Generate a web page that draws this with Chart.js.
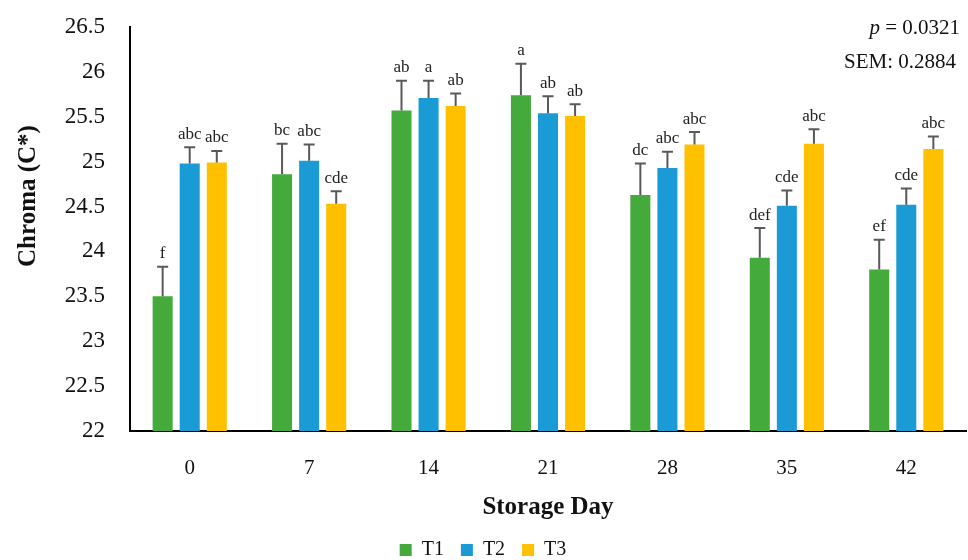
<!DOCTYPE html>
<html>
<head>
<meta charset="utf-8">
<script src="https://cdn.jsdelivr.net/npm/chart.js@4"></script>
<style>
  html, body { margin: 0; padding: 0; background: #fff; }
  #wrap { width: 968px; height: 560px; }
</style>
</head>
<body>
<div id="wrap"><canvas id="chart" width="968" height="560"></canvas></div>
<script>
// Données
const jours = ["0", "7", "14", "21", "28", "35", "42"];
const t1 = [23.50, 24.86, 25.57, 25.74, 24.63, 23.93, 23.80];
const t2 = [24.98, 25.01, 25.71, 25.54, 24.93, 24.51, 24.52];
const t3 = [24.99, 24.53, 25.62, 25.51, 25.19, 25.20, 25.14];
const t1Err = [0.33, 0.34, 0.33, 0.35, 0.35, 0.33, 0.33];
const t2Err = [0.18, 0.18, 0.19, 0.19, 0.18, 0.17, 0.18];
const t3Err = [0.13, 0.14, 0.14, 0.13, 0.14, 0.16, 0.14];
const t1Lettres = ["f", "bc", "ab", "a", "dc", "def", "ef"];
const t2Lettres = ["abc", "abc", "a", "ab", "abc", "cde", "cde"];
const t3Lettres = ["abc", "cde", "ab", "ab", "abc", "abc", "abc"];
const yTicks = [22, 22.5, 23, 23.5, 24, 24.5, 25, 25.5, 26, 26.5];

const serif = "'Liberation Serif', 'Times New Roman', serif";
const erreurs = [t1Err, t2Err, t3Err];
const lettres = [t1Lettres, t2Lettres, t3Lettres];

// Barres d'erreur (vers le haut) + lettres de signification
const pluginErreurs = {
  id: "erreurs",
  afterDatasetsDraw(chart) {
    const ctx = chart.ctx;
    const y = chart.scales.y;
    ctx.save();
    chart.data.datasets.forEach((ds, d) => {
      const meta = chart.getDatasetMeta(d);
      meta.data.forEach((bar, i) => {
        const haut = y.getPixelForValue(ds.data[i] + erreurs[d][i]);
        ctx.strokeStyle = "#595959";
        ctx.lineWidth = 2;
        ctx.beginPath();
        ctx.moveTo(bar.x, bar.y);
        ctx.lineTo(bar.x, haut);
        ctx.moveTo(bar.x - 5.5, haut);
        ctx.lineTo(bar.x + 5.5, haut);
        ctx.stroke();
        ctx.fillStyle = "#222";
        ctx.font = "17px " + serif;
        ctx.textAlign = "center";
        ctx.textBaseline = "middle";
        ctx.fillText(lettres[d][i], bar.x, haut - 13);
      });
    });
    ctx.restore();
  }
};

// Titre de l'axe Y et annotations p / SEM
const pluginTextes = {
  id: "textes",
  afterDraw(chart) {
    const ctx = chart.ctx;
    ctx.save();
    ctx.fillStyle = "#111";
    ctx.textBaseline = "middle";
    // titre Y
    ctx.translate(29, 196);
    ctx.rotate(-Math.PI / 2);
    ctx.textAlign = "center";
    ctx.font = "bold 25px " + serif;
    ctx.fillText("Chroma (C*)", 0, 0);
    ctx.setTransform(1, 0, 0, 1, 0, 0);
    // p = 0.0321
    ctx.textAlign = "right";
    ctx.font = "21px " + serif;
    const reste = " = 0.0321";
    const w = ctx.measureText(reste).width;
    ctx.fillText(reste, 960, 28);
    ctx.font = "italic 21px " + serif;
    ctx.fillText("p", 960 - w, 28);
    ctx.font = "21px " + serif;
    ctx.fillText("SEM: 0.2884", 956, 62);
    ctx.restore();
  }
};

const data = {
  labels: jours,
  datasets: [
    { label: "T1", data: t1, backgroundColor: "#43AA3B" },
    { label: "T2", data: t2, backgroundColor: "#1B9BD6" },
    { label: "T3", data: t3, backgroundColor: "#FFC000" }
  ]
};

const config = {
  type: "bar",
  data: data,
  options: {
    responsive: false,
    animation: false,
    categoryPercentage: 0.68,
    barPercentage: 0.74,
    layout: { padding: { top: 27, right: 2, left: 0, bottom: -10 } },
    plugins: {
      legend: {
        position: "bottom",
        labels: {
          boxWidth: 12,
          boxHeight: 12,
          padding: 17,
          color: "#111",
          font: { family: serif, size: 20 }
        }
      },
      tooltip: { enabled: false }
    },
    scales: {
      x: {
        grid: { display: false },
        border: { display: true, color: "#000", width: 2 },
        ticks: { color: "#111", padding: 17, font: { family: serif, size: 21 } },
        title: {
          display: true,
          text: "Storage Day",
          color: "#111",
          font: { family: serif, size: 25, weight: "bold" },
          padding: { top: 0, bottom: 0 }
        },
        afterFit(scale) { scale.height = 92; }
      },
      y: {
        min: 22,
        max: 26.5,
        grid: { display: false },
        border: { display: true, color: "#000", width: 2 },
        afterBuildTicks(scale) { scale.ticks = yTicks.map(v => ({ value: v })); },
        ticks: {
          color: "#111",
          padding: 17,
          font: { family: serif, size: 23 },
          callback: v => String(v)
        },
        afterFit(scale) {
          scale.width = 130;
          scale.paddingTop = 0;
          scale.paddingBottom = 0;
        }
      }
    }
  },
  plugins: [pluginErreurs, pluginTextes]
};

new Chart(document.querySelector("#chart"), config);
</script>
</body>
</html>
